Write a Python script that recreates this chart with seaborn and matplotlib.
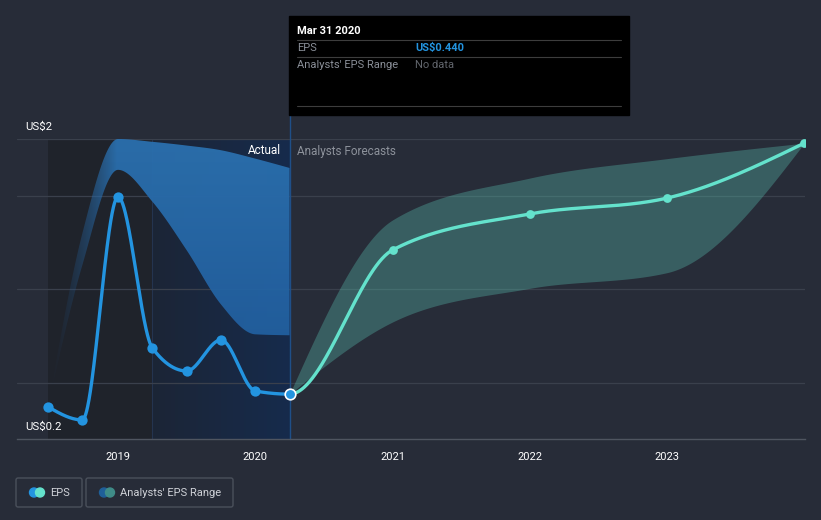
import numpy as np
import matplotlib
matplotlib.use("Agg")
import matplotlib.pyplot as plt
import seaborn as sns
from matplotlib.patches import Rectangle, FancyBboxPatch, Circle

# ---- data (decimal years / US$ EPS) ----
eps_dates = [2018.49, 2018.74, 2019.0, 2019.25, 2019.5, 2019.75, 2020.0, 2020.25]
eps_vals = [0.372, 0.302, 1.495, 0.687, 0.564, 0.730, 0.457, 0.440]

act_rng_dates = [2018.49, 2018.74, 2019.0, 2019.25, 2019.5, 2019.75, 2020.0, 2020.25]
act_rng_low = [0.372, 1.13, 1.64, 1.47, 1.21, 0.92, 0.76, 0.755]
act_rng_high = [0.372, 1.30, 1.805, 1.79, 1.77, 1.745, 1.70, 1.65]

fc_dates = [2020.25, 2021.0, 2022.0, 2023.0, 2024.0]
fc_vals = [0.440, 1.211, 1.404, 1.489, 1.783]
fc_low = [0.440, 0.826, 1.006, 1.090, 1.783]
fc_high = [0.440, 1.372, 1.596, 1.700, 1.783]

year_ticks = [2019, 2020, 2021, 2022, 2023]
year_labels = ["2019", "2020", "2021", "2022", "2023"]

BG = "#272c38"
GRID = "#3a404c"
BLUE = "#2394e0"
TEAL = "#64e2cc"


def monotone(xs, ys, n=400):
    # d3-style monotone cubic curve through the points
    xs = np.asarray(xs, float)
    ys = np.asarray(ys, float)
    h = np.diff(xs)
    s = np.diff(ys) / h
    m = np.zeros(len(xs))
    for i in range(1, len(xs) - 1):
        p = (s[i - 1] * h[i] + s[i] * h[i - 1]) / (h[i - 1] + h[i])
        m[i] = (np.sign(s[i - 1]) + np.sign(s[i])) * min(abs(s[i - 1]), abs(s[i]), 0.5 * abs(p))
    m[0] = (3 * s[0] - m[1]) / 2 if len(xs) > 2 else s[0]
    m[-1] = (3 * s[-1] - m[-2]) / 2 if len(xs) > 2 else s[-1]
    out_x, out_y = [], []
    for i in range(len(xs) - 1):
        t = np.linspace(0, 1, n // (len(xs) - 1))
        h00 = 2 * t**3 - 3 * t**2 + 1
        h10 = t**3 - 2 * t**2 + t
        h01 = -2 * t**3 + 3 * t**2
        h11 = t**3 - t**2
        out_x.append(xs[i] + t * h[i])
        out_y.append(h00 * ys[i] + h10 * h[i] * m[i] + h01 * ys[i + 1] + h11 * h[i] * m[i + 1])
    return np.concatenate(out_x), np.concatenate(out_y)


sns.set_style("dark", {"axes.facecolor": BG, "figure.facecolor": BG})
plt.rcParams["font.family"] = ["Roboto", "DejaVu Sans"]

fig = plt.figure(figsize=(8.21, 5.20), dpi=100)
ax = fig.add_axes([17 / 821, 81 / 520, 788 / 821, 300 / 520])
x0, x1 = 2018.264, 2024.005
y0, y1 = 0.2, 1.805

# shaded "actual" background
ax.axvspan(act_rng_dates[0], fc_dates[0], color="#1f232b", zorder=0, lw=0)
grad = np.zeros((2, 100, 3))
c_left = np.array([0x1c, 0x25, 0x36]) / 255
c_right = np.array([0x16, 0x2b, 0x4c]) / 255
for j in range(100):
    grad[:, j] = c_left + (c_right - c_left) * j / 99
ax.imshow(grad, extent=[2019.25, fc_dates[0], y0, y1], aspect="auto", origin="lower", zorder=0.2)
ax.axvline(2019.25, color="#24344f", lw=0.8, zorder=0.3)

# grid
for g in [0.5, 1.0, 1.5, y1]:
    ax.axhline(g, color=GRID, lw=0.9, zorder=0.5)

# actual EPS range band with a horizontal fade-in
bx, bhi = monotone(act_rng_dates, act_rng_high)
_, blo = monotone(act_rng_dates, act_rng_low)
band = ax.fill_between(bx, blo, bhi, facecolor="none", edgecolor="none", zorder=2)
N = 300
rgba = np.zeros((60, N, 4))
gx = np.linspace(act_rng_dates[0], fc_dates[0], N)
alpha = np.clip((gx - act_rng_dates[0]) / 0.5, 0.0, 1.0) ** 1.5 * 0.95
top_c = np.array([0x2b, 0x71, 0xb0]) / 255
bot_c = np.array([0x1e, 0x58, 0x98]) / 255
for i in range(60):
    rgba[i, :, :3] = bot_c + (top_c - bot_c) * i / 59
    rgba[i, :, 3] = alpha
im = ax.imshow(rgba, extent=[act_rng_dates[0], fc_dates[0], 0.3, y1], aspect="auto",
               origin="lower", zorder=2)
im.set_clip_path(band.get_paths()[0], transform=ax.transData)

# forecast range band
fx, fhi = monotone(fc_dates, fc_high)
_, flo = monotone(fc_dates, fc_low)
ax.fill_between(fx, flo, fhi, color="#5ccab8", alpha=0.32, lw=0, zorder=2)

# EPS curve: smooth through actual + forecast so the join is continuous
all_x = eps_dates + fc_dates[1:]
all_y = eps_vals + fc_vals[1:]
cx, cy = monotone(all_x, all_y, n=1200)
act = cx <= fc_dates[0]
sns.lineplot(x=cx[act], y=cy[act], color=BLUE, lw=2.4, ax=ax, sort=False,
             estimator=None, zorder=3)
sns.lineplot(x=cx[~act], y=cy[~act], color=TEAL, lw=2.4, ax=ax, sort=False,
             estimator=None, zorder=3)
sns.scatterplot(x=eps_dates[:-1], y=eps_vals[:-1], color=BLUE, s=55, lw=0, ax=ax, zorder=4)
sns.scatterplot(x=fc_dates[1:], y=fc_vals[1:], color=TEAL, s=40, lw=0, ax=ax, zorder=4)
sns.scatterplot(x=eps_dates[-1:], y=eps_vals[-1:], color=BLUE, s=58, edgecolor="white",
                lw=1.2, ax=ax, zorder=5)

ax.axvline(fc_dates[0], ymin=0, ymax=(439 - 115) / 300, color="#1f4f88", lw=1,
           clip_on=False, zorder=2.5)

ax.set_xlim(x0, x1)
ax.set_ylim(y0, y1)
ax.set_xticks(year_ticks)
ax.set_xticklabels(year_labels)
ax.set_yticks([])
ax.set_xlabel("")
ax.set_ylabel("")
for sp in ["top", "left", "right"]:
    ax.spines[sp].set_visible(False)
ax.spines["bottom"].set_color("#4f5560")
ax.spines["bottom"].set_linewidth(1)
ax.tick_params(axis="x", colors="#4f5560", length=4, width=1, labelcolor="white",
               labelsize=8, pad=5)
ax.grid(False)

# ---- overlay in pixel coordinates ----
ov = fig.add_axes([0, 0, 1, 1])
ov.set_xlim(0, 821)
ov.set_ylim(520, 0)
ov.axis("off")
ov.patch.set_alpha(0)

ov.text(281, 151, "Actual", color="white", fontsize=8.5, ha="right", va="center")
ov.text(297, 151, "Analysts Forecasts", color="#8d929b", fontsize=8.5, ha="left", va="center")
ov.text(25, 127, "US$2", color="white", fontsize=8.2, va="center")
ov.text(25, 427, "US$0.2", color="white", fontsize=8.2, va="center")

# tooltip
ov.add_patch(Rectangle((289, 16), 340, 99, color="black", zorder=5))
ov.text(297, 31, "Mar 31 2020", color="white", fontsize=8, fontweight="bold", va="center", zorder=6)
for ly in [40, 57, 106]:
    ov.plot([297, 621], [ly, ly], color="#3d3d3d", lw=0.8, zorder=6)
ov.text(297, 48, "EPS", color="#8a8f98", fontsize=8, va="center", zorder=6)
ov.text(415, 48, "US$0.440", color=BLUE, fontsize=8, fontweight="bold", va="center", zorder=6)
ov.text(297, 65, "Analysts' EPS Range", color="#8a8f98", fontsize=8, va="center", zorder=6)
ov.text(415, 65, "No data", color="#62666d", fontsize=8, va="center", zorder=6)

# legend
for (lx, lw_) in [(16, 66), (86, 147)]:
    ov.add_patch(FancyBboxPatch((lx, 478), lw_, 29, boxstyle="round,pad=0,rounding_size=2",
                                facecolor="none", edgecolor="#4a505b", lw=1))
ov.add_patch(Circle((34, 492.5), 4.5, color=BLUE))
ov.add_patch(Circle((40, 492.5), 4.5, color=TEAL))
ov.text(50, 493, "EPS", color="#cfd2d8", fontsize=8, va="center")
ov.add_patch(Circle((104, 492.5), 4.5, color="#1f5f99"))
ov.add_patch(Circle((110, 492.5), 4.5, color="#3f8c88"))
ov.text(120, 493, "Analysts' EPS Range", color="#cfd2d8", fontsize=8, va="center")

fig.savefig("out.png", dpi=100, facecolor=BG)
